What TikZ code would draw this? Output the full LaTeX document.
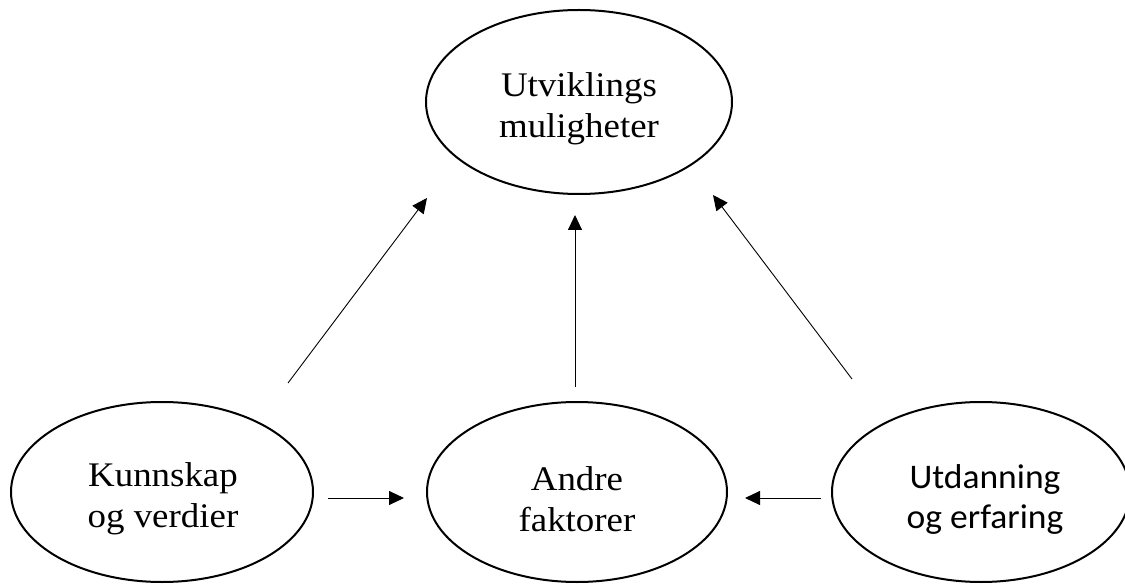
\documentclass[tikz,border=0pt]{standalone}
\usepackage{fontspec}
\setmainfont{Liberation Serif}
\newfontfamily\tmsfont[FakeStretch=1.07]{Liberation Serif}
\newfontfamily\calfont[FakeStretch=1.03]{Carlito}
\usetikzlibrary{shapes.geometric,arrows.meta}
\begin{document}
\begin{tikzpicture}[x=1pt,y=-1pt,
  oval/.style={draw=black,line width=2pt,ellipse,inner sep=0pt},
  serif/.style={align=center,font=\tmsfont\fontsize{34.5}{41}\selectfont,inner sep=0pt},
  sans/.style={align=center,font=\calfont\fontsize{34.5}{40}\selectfont,inner sep=0pt},
  conn/.style={line width=0.9pt,-{Triangle[length=15pt,width=14pt]}}]
\useasboundingbox (0,0) rectangle (1125,585);
\node[oval,minimum width=306pt,minimum height=184pt] (top) at (579,102) {};
\node[oval,minimum width=302pt,minimum height=180pt] (left) at (162,492) {};
\node[oval,minimum width=300pt,minimum height=180pt] (mid) at (577,492) {};
\node[oval,minimum width=298pt,minimum height=180pt] (right) at (981,492) {};
\node[serif] (ttop) at (579,108.6) {Utviklings\\muligheter};
\node[serif] (tleft) at (163,499) {Kunnskap\\og verdier};
\node[serif] (tmid) at (577,499) {Andre\\faktorer};
\node[sans] (tright) at (985,499) {Utdanning\\og erfaring};
\coordinate (a1) at (288,383); \coordinate (b1) at (427,198);
\coordinate (a2) at (575,387); \coordinate (b2) at (575,215);
\coordinate (a3) at (852,379); \coordinate (b3) at (713,195);
\coordinate (a4) at (328,498); \coordinate (b4) at (404,498);
\coordinate (a5) at (821,498); \coordinate (b5) at (745,498);
\draw[conn] (a1) -- (b1);
\draw[conn] (a2) -- (b2);
\draw[conn] (a3) -- (b3);
\draw[conn] (a4) -- (b4);
\draw[conn] (a5) -- (b5);
\end{tikzpicture}
\end{document}
